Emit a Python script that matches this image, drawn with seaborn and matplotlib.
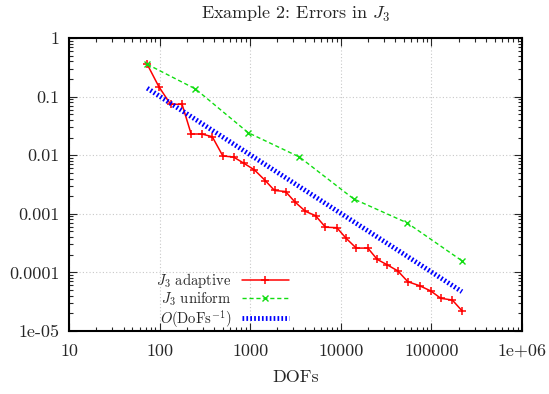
import numpy as np
import pandas as pd
import matplotlib
matplotlib.use("Agg")
import matplotlib.pyplot as plt
import seaborn as sns

# ---- data ----
adaptive_dofs = [73, 98, 132, 177, 223, 292, 381, 499, 655, 850, 1115, 1464, 1855,
                 2453, 3107, 4074, 5260, 6776, 9035, 11480, 14800, 19870, 25200,
                 32700, 42600, 54900, 74000, 98500, 127000, 170000, 219000]
adaptive_err = [0.356, 0.148, 0.074, 0.074, 0.023, 0.023, 0.0207, 0.0097, 0.0093,
                0.0073, 0.0056, 0.0037, 0.0025, 0.0024, 0.0016, 0.0011, 0.00093,
                0.00059, 0.00058, 0.00038, 0.00026, 0.00026, 0.000167, 0.000134,
                0.000106, 6.94e-05, 5.93e-05, 4.82e-05, 3.61e-05, 3.38e-05, 2.19e-05]
uniform_dofs = [73, 249, 951, 3500, 13900, 54000, 217000]
uniform_err = [0.356, 0.135, 0.0242, 0.0093, 0.00179, 0.00070, 0.000158]
ref_dofs = [73, 217000]
ref_err = [0.139, 4.69e-05]

x_ticks = [10, 100, 1000, 10000, 100000, 1000000]
x_ticklabels = ["10", "100", "1000", "10000", "100000", "1e+06"]
y_ticks = [1e-5, 1e-4, 1e-3, 1e-2, 1e-1, 1]
y_ticklabels = ["1e-05", "0.0001", "0.001", "0.01", "0.1", "1"]

title = r"Example 2: Errors in $J_3$"
xlabel = "DOFs"
labels = [r"$J_3$ adaptive", r"$J_3$ uniform", r"$O(\mathrm{DoFs}^{-1})$"]

RED = "#ff0000"
GREEN = "#11dd11"
BLUE = "#0000ff"

sns.set_style("ticks")
plt.rcParams["font.family"] = ["cmr10", "DejaVu Serif"]
plt.rcParams["mathtext.fontset"] = "cm"
plt.rcParams["axes.formatter.use_mathtext"] = True
plt.rcParams["axes.unicode_minus"] = False

fig = plt.figure(figsize=(5.49, 3.94), dpi=100)
ax = fig.add_axes([69 / 549, 1 - 331 / 394, (522 - 69) / 549, (331 - 38) / 394])

df_a = pd.DataFrame({"x": adaptive_dofs, "y": adaptive_err})
df_u = pd.DataFrame({"x": uniform_dofs, "y": uniform_err})
df_r = pd.DataFrame({"x": ref_dofs, "y": ref_err})

sns.lineplot(data=df_a, x="x", y="y", ax=ax, color=RED, lw=1.1,
             marker="+", markersize=5.5, markeredgewidth=1.1,
             markeredgecolor=RED, markerfacecolor=RED, label=labels[0])
sns.lineplot(data=df_u, x="x", y="y", ax=ax, color=GREEN, lw=1.0,
             linestyle=(0, (3, 2)), marker="x", markersize=4.5, markeredgewidth=1.0,
             markeredgecolor=GREEN, markerfacecolor=GREEN, label=labels[1])
sns.lineplot(data=df_r, x="x", y="y", ax=ax, color=BLUE, lw=3.5,
             linestyle=(0, (0.35, 0.45)), label=labels[2])

ax.set_xscale("log")
ax.set_yscale("log")
ax.set_xlim(10, 1e6)
ax.set_ylim(1e-5, 1)
ax.set_xticks(x_ticks)
ax.set_xticklabels(x_ticklabels)
ax.set_yticks(y_ticks)
ax.set_yticklabels(y_ticklabels)
ax.xaxis.set_minor_locator(matplotlib.ticker.LogLocator(base=10, subs=np.arange(2, 10), numticks=20))
ax.yaxis.set_minor_locator(matplotlib.ticker.LogLocator(base=10, subs=np.arange(2, 10), numticks=20))
ax.xaxis.set_minor_formatter(matplotlib.ticker.NullFormatter())
ax.yaxis.set_minor_formatter(matplotlib.ticker.NullFormatter())
ax.tick_params(which="both", direction="in", top=True, right=True, labelsize=13)
ax.tick_params(axis="x", which="major", pad=9)
ax.tick_params(axis="y", which="major", pad=7)
ax.tick_params(which="major", length=6, width=0.8)
ax.tick_params(which="minor", length=3, width=0.8)
for s in ax.spines.values():
    s.set_linewidth(1.5)
    s.set_color("black")
ax.grid(True, which="major", color="#c8c8c8", linestyle=(0, (1, 2)), lw=0.8)

ax.set_title(title, fontsize=13, pad=14)
ax.set_xlabel(xlabel, fontsize=13, labelpad=8)
ax.set_ylabel("")

ax.legend(loc="lower right", bbox_to_anchor=(0.485, 0.005), frameon=False, markerfirst=False,
          fontsize=10.5, handlelength=3.2, labelspacing=0.0, borderaxespad=0.0,
          borderpad=0.0, numpoints=1, handletextpad=0.75)
leg = ax.get_legend()
for t in leg.get_texts():
    t.set_ha("right")
leg._legend_box.align = "right"

fig.savefig("out.png", dpi=100)
